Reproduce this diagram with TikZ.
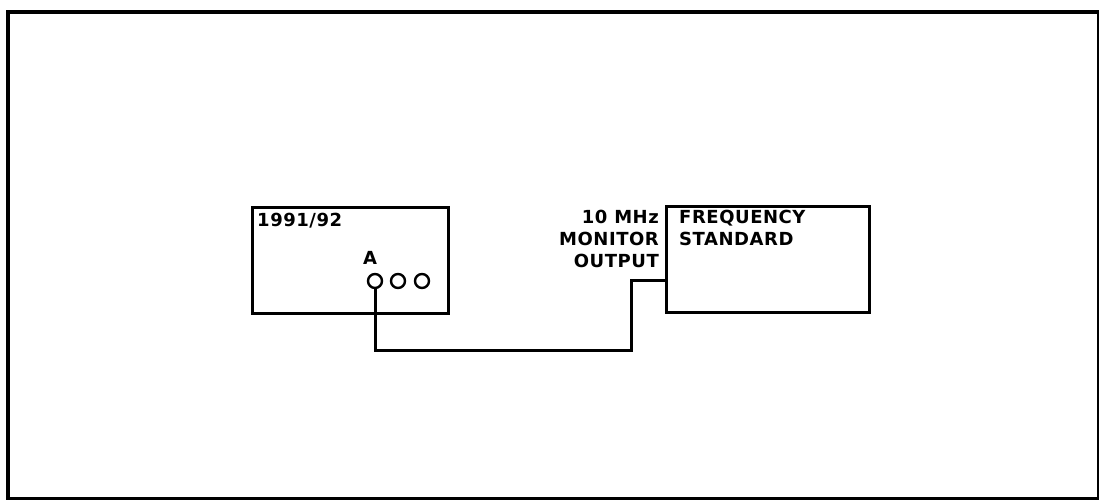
\documentclass[tikz,border=0pt]{standalone}
\usepackage{fontspec}
\setmainfont{DejaVu Sans}[BoldFont={DejaVu Sans Bold}]
\newfontfamily\labfont{DejaVu Sans Bold}[LetterSpace=3]
\begin{document}
\begin{tikzpicture}[x=1pt,y=-1pt,
  box/.style={draw,line width=3pt,rectangle,inner sep=0pt,anchor=north west},
  lab/.style={font=\labfont\fontsize{18}{22}\selectfont,inner sep=0pt},
  jack/.style={draw,circle,line width=2.4pt,minimum size=14pt,inner sep=0pt},
  wire/.style={line width=3pt}]
\useasboundingbox (0,0) rectangle (1099,500);
\node[draw,line width=4pt,rectangle,inner sep=0pt,minimum width=1091pt,minimum height=487pt,anchor=north west] (frame) at (6,10) {};
\node[box,minimum width=196pt,minimum height=106pt] (dev) at (251,206) {};
\node[box,minimum width=203pt,minimum height=106pt] (std) at (665,205) {};
\node[lab,anchor=west] (devname) at (257,221) {1991/92};
\node[lab,anchor=center] (alab) at (370,258) {A};
\node[jack] (ja) at (375,281) {};
\node[jack] (jb) at (398,281) {};
\node[jack] (jc) at (422,281) {};
\node[lab,anchor=north west,align=left] (stdname) at (679,210) {FREQUENCY\\STANDARD};
\node[lab,anchor=north east,align=right] (mon) at (659,210) {10 MHz\\MONITOR\\OUTPUT};
\coordinate (c1) at (375,350);
\coordinate (c2) at (631,350);
\coordinate (c3) at (631,280);
\coordinate (c4) at (665,280);
\draw[wire] (ja.south) -- (c1) -- (c2) -- (c3) -- (c4);
\end{tikzpicture}
\end{document}
